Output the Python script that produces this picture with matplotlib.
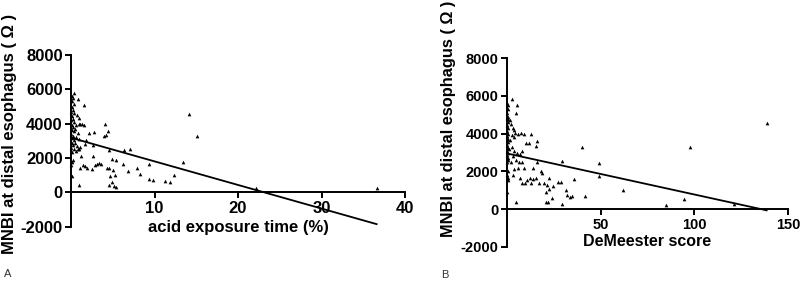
import matplotlib
matplotlib.use("Agg")
import matplotlib.pyplot as plt
import numpy as np

plt.rcParams['font.family'] = ['Liberation Sans', 'DejaVu Sans']
plt.rcParams['axes.unicode_minus'] = False

# ---------------- Panel A data: acid exposure time (%) vs MNBI ----------------
aet_x = [0.1, 0.2, 0.1, 0.3, 0.1, 0.2, 0.05, 0.3, 0.1, 0.2, 0.05, 0.3, 0.1, 0.2, 0.1,
         0.3, 0.05, 0.2, 0.1, 0.3, 0.1, 0.2, 0.05, 0.3, 0.1, 0.2, 0.1, 0.05, 0.1,
         0.36, 0.8, 1.5, 0.7, 1.0, 0.9, 1.1, 1.3, 1.5, 0.6, 0.5, 0.8, 0.6, 1.0, 1.8,
         0.5, 1.1, 1.7, 0.8, 1.0, 1.2, 0.6, 1.4, 1.7, 1.9, 1.1, 0.9, 0.7,
         2.1, 2.7, 2.6, 2.6, 2.5, 2.9, 3.1, 3.4, 3.6, 4.1, 4.2, 4.4, 4.0, 4.3, 4.5,
         4.6, 4.9, 5.0, 4.7, 4.5, 4.9, 5.2, 5.4, 5.3, 5.4,
         6.2, 6.3, 7.1, 6.8, 7.9, 8.3, 9.4, 9.3, 9.8, 11.3, 11.9, 12.3, 13.4, 14.1,
         15.1, 22.2, 36.6]
aet_y = [5600, 5500, 5300, 5150, 4950, 4800, 4700, 4600, 4450, 4300, 4200, 4100, 3950,
         3800, 3650, 3550, 3400, 3300, 3150, 3050, 2900, 2750, 2600, 2500, 2350, 1900,
         1750, 1600, 930,
         5810, 5440, 5060, 4520, 4320, 4000, 3980, 3960, 3950, 3900, 3700, 3450, 3200,
         3100, 3060, 2900, 2670, 2800, 2550, 2500, 2130, 2400, 1600, 1550, 1400, 1410,
         400, 2700,
         3450, 3500, 2770, 2130, 1380, 1600, 1650, 1700, 1680, 4000, 3350, 3550, 3300,
         1410, 1400, 2480, 1960, 1320, 930, 400, 600, 350, 290, 1030, 1860,
         1650, 2440, 2540, 1220, 1410, 1090, 1670, 800, 700, 640, 580, 1030, 1760, 4550,
         3290, 230, 250]

# ---------------- Panel B data: DeMeester score vs MNBI ----------------
dm_x = [0.2, 0.5, 0.3, 0.1, 0.4, 0.2, 0.6, 0.3, 0.1, 0.5, 0.2, 0.4, 0.1, 0.6, 0.3, 0.2,
        0.5, 0.1, 0.4, 0.2, 0.6, 0.3, 0.1, 0.4, 0.2, 0.5, 0.3, 0.1,
        2.5, 5.5, 5.0, 1.5, 2.0, 3.0, 4.0, 2.5, 4.5, 6.0, 7.5, 9.0, 3.5, 1.5, 2.5, 4.0,
        5.5, 7.0, 8.0, 1.0, 3.0, 5.0, 6.5, 2.0, 8.0, 4.0, 6.0, 7.0, 8.0, 9.5, 10.5, 3.0, 5.0,
        13.0, 16.2, 15.7, 10.3, 11.5, 8.9, 13.9, 16.2, 18.3, 18.9, 22.4, 15.7, 17.0, 14.0,
        12.5, 13.0, 19.5, 21.4, 22.4, 20.6, 24.6, 27.2, 29.0, 31.7, 32.0, 33.5, 34.5, 36.0,
        41.8, 24.2, 21.0, 22.0, 29.4, 29.4, 39.9, 49.1, 49.1, 61.9, 85.0, 94.5, 97.9,
        121.0, 138.6]
dm_y = [5600, 5500, 5300, 5100, 4900, 4800, 4750, 4600, 4450, 4300, 4150, 4000, 3850,
        3700, 3550, 3400, 3250, 3100, 3000, 2850, 2700, 2600, 2500, 2000, 1800, 1650,
        1550, 920,
        5850, 5490, 5100, 4700, 4500, 4300, 4200, 3950, 4050, 4000, 4050, 4000, 3800,
        3650, 3300, 3100, 2950, 2900, 3100, 3200, 2800, 2600, 2500, 2500, 2500, 2150,
        2200, 1650, 1400, 1400, 1550, 1800, 390,
        4000, 3590, 3360, 3500, 3500, 2170, 2170, 2520, 2040, 1900, 1640, 1630, 1400,
        1600, 1650, 1400, 1370, 1280, 1070, 920, 1240, 1420, 1420, 1010, 750, 650, 700,
        1600, 710, 570, 360, 400, 270, 2540, 3310, 2470, 1760, 1010, 210, 530, 3310,
        270, 4570]

# regression lines (fitted values)
aet_fit_x = [0, 36.6]
aet_fit_y = [3180, -1850]
dm_fit_x = [0, 138.6]
dm_fit_y = [2950, -60]

ylabel = "MNBI at distal esophagus ( \u03a9 )"
yticks = [-2000, 0, 2000, 4000, 6000, 8000]

fig = plt.figure(figsize=(8.0, 2.82), dpi=100)


def style(ax, xmax, xticks, fs):
    ax.set_ylim(-2000, 8000)
    ax.set_xlim(0, xmax)
    ax.spines['top'].set_visible(False)
    ax.spines['right'].set_visible(False)
    ax.spines['bottom'].set_position(('data', 0))
    ax.spines['left'].set_linewidth(1.4)
    ax.spines['bottom'].set_linewidth(1.4)
    ax.spines['left'].set_bounds(-2000, 8000)
    ax.spines['bottom'].set_bounds(0, xmax)
    ax.set_yticks(yticks)
    ax.set_xticks(xticks)
    ax.tick_params(axis='both', direction='out', length=4, width=1.4,
                   labelsize=fs, pad=2)
    for t in ax.get_xticklabels() + ax.get_yticklabels():
        t.set_fontweight('bold')


# Panel A
axA = fig.add_axes([71 / 800, (282 - 226.7) / 282, 334 / 800, 171.7 / 282])
axA.scatter(aet_x, aet_y, marker='^', s=7, color='black', linewidths=0, clip_on=False, zorder=3)
axA.plot(aet_fit_x, aet_fit_y, color='black', lw=1.3, clip_on=False)
style(axA, 40, [10, 20, 30, 40], 12)
axA.set_xlabel("acid exposure time (%)", fontsize=12, fontweight='bold', labelpad=3)
fig.text(10 / 800, 1 - 134 / 282, ylabel, fontsize=12, fontweight='bold',
         rotation=90, ha='center', va='center')

# Panel B
axB = fig.add_axes([507 / 800, (282 - 247) / 282, 281 / 800, 189 / 282])
axB.scatter(dm_x, dm_y, marker='^', s=7, color='black', linewidths=0, clip_on=False, zorder=3)
axB.plot(dm_fit_x, dm_fit_y, color='black', lw=1.3, clip_on=False)
style(axB, 150, [50, 100, 150], 10.5)
axB.set_xlabel("DeMeester score", fontsize=11.5, fontweight='bold', labelpad=2)
fig.text(448 / 800, 1 - 119 / 282, ylabel, fontsize=11.8, fontweight='bold',
         rotation=90, ha='center', va='center')

fig.text(8 / 800, 1 - 274 / 282, "A", fontsize=8, ha='center', va='center', color='#333333')
fig.text(445 / 800, 1 - 275 / 282, "B", fontsize=8, ha='center', va='center', color='#333333')

fig.savefig("out.png", dpi=100)
